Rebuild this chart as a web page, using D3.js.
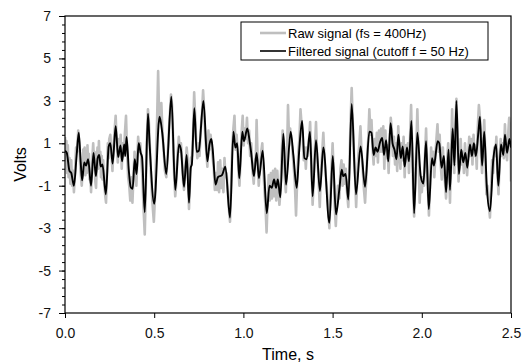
<!DOCTYPE html>
<html>
<head>
<meta charset="utf-8">
<script src="https://cdn.jsdelivr.net/npm/d3@7"></script>
<style>
  body { margin: 0; background: #fff; }
  svg { display: block; font-family: "Liberation Sans", Arial, sans-serif; }
</style>
</head>
<body>
<div id="chart"></div>
<script>
// tick values
var xTicks = [0, 0.5, 1.0, 1.5, 2.0, 2.5];
var yTicks = [-7, -5, -3, -1, 1, 3, 5, 7];
var legendLabels = ["Raw signal (fs = 400Hz)", "Filtered signal (cutoff f = 50 Hz)"];

// raw signal, [time s, volts]
var rawSignal = [
  [0.000,1.30],[0.004,0.20],[0.008,1.10],[0.012,-0.40],[0.016,0.90],[0.020,-0.60],[0.025,0.30],[0.030,-0.90],
  [0.035,0.20],[0.040,-1.00],[0.045,-0.30],[0.050,-1.30],[0.056,-0.40],[0.062,0.80],[0.068,0.60],[0.074,1.60],
  [0.078,1.20],[0.082,0.70],[0.086,-0.20],[0.090,-0.60],[0.094,-1.00],[0.098,-0.40],[0.102,0.70],[0.106,-0.30],
  [0.110,0.80],[0.114,-0.50],[0.118,0.60],[0.122,-0.40],[0.126,0.90],[0.130,-0.20],[0.134,0.50],[0.138,-0.70],
  [0.142,-0.30],[0.146,-1.30],[0.150,-0.40],[0.154,0.40],[0.158,1.00],[0.162,0.30],[0.166,0.60],[0.170,-0.80],
  [0.174,-1.10],[0.178,-0.10],[0.182,0.80],[0.186,-0.20],[0.190,1.10],[0.194,0.00],[0.198,0.60],[0.202,-0.60],
  [0.206,0.40],[0.210,-0.70],[0.214,0.20],[0.220,-0.90],[0.226,-1.50],[0.230,-1.80],[0.236,-0.20],[0.240,1.00],
  [0.244,0.30],[0.248,1.20],[0.254,1.40],[0.260,0.60],[0.266,-0.30],[0.272,0.80],[0.278,1.60],[0.284,2.30],
  [0.290,1.00],[0.296,0.10],[0.302,1.20],[0.306,0.40],[0.312,1.40],[0.318,-0.20],[0.324,1.00],[0.330,0.40],
  [0.336,1.50],[0.342,2.30],[0.348,0.60],[0.354,-0.60],[0.360,-1.00],[0.366,-1.70],[0.372,-0.60],[0.378,-1.80],
  [0.384,-0.50],[0.390,0.60],[0.394,-0.20],[0.400,-1.00],[0.406,0.40],[0.410,1.30],[0.416,0.60],[0.422,1.00],
  [0.428,0.20],[0.434,-0.60],[0.440,-2.00],[0.447,-3.30],[0.452,-1.50],[0.458,1.00],[0.465,2.60],[0.470,2.00],
  [0.476,0.80],[0.482,-0.50],[0.490,-1.80],[0.498,-2.70],[0.504,-1.60],[0.510,0.20],[0.516,2.00],[0.522,4.40],
  [0.527,2.50],[0.533,2.00],[0.540,2.90],[0.546,1.60],[0.552,0.80],[0.560,-0.30],[0.568,-0.60],[0.576,0.50],
  [0.584,1.80],[0.594,3.30],[0.600,2.80],[0.606,1.20],[0.612,-0.50],[0.618,-1.50],[0.624,-0.80],[0.630,0.40],
  [0.638,1.30],[0.644,0.60],[0.650,1.00],[0.656,0.20],[0.662,-0.80],[0.667,-1.20],[0.674,-0.30],[0.682,0.80],
  [0.688,0.20],[0.695,-2.10],[0.700,-1.00],[0.706,0.30],[0.712,0.40],[0.718,1.40],[0.724,3.40],[0.730,2.20],
  [0.736,0.90],[0.742,0.30],[0.748,1.00],[0.754,0.40],[0.760,1.50],[0.768,2.40],[0.774,3.50],[0.780,2.60],
  [0.786,1.40],[0.792,0.60],[0.798,-0.10],[0.804,1.60],[0.810,0.70],[0.816,1.40],[0.822,0.90],[0.828,0.30],
  [0.834,-0.20],[0.840,-1.20],[0.846,-0.40],[0.852,-1.20],[0.858,0.10],[0.864,-1.30],[0.870,0.20],[0.876,-1.10],
  [0.882,-0.20],[0.888,-1.30],[0.894,0.30],[0.900,-0.60],[0.906,-0.40],[0.912,-1.20],[0.918,-2.00],[0.925,-2.70],
  [0.932,-0.80],[0.938,0.90],[0.944,1.70],[0.950,2.30],[0.956,0.70],[0.962,1.40],[0.968,0.50],[0.974,-0.50],
  [0.978,-1.00],[0.984,0.30],[0.990,1.50],[0.996,2.30],[1.002,0.90],[1.008,1.70],[1.014,1.20],[1.020,2.20],
  [1.026,1.00],[1.032,1.60],[1.038,0.40],[1.044,1.00],[1.050,-0.20],[1.058,-0.90],[1.064,0.10],[1.070,0.40],
  [1.074,2.10],[1.080,0.20],[1.086,-1.00],[1.092,-0.30],[1.100,0.60],[1.106,1.00],[1.112,-0.20],[1.118,-1.20],
  [1.124,-2.00],[1.130,-3.20],[1.136,-1.60],[1.142,-0.50],[1.148,-1.70],[1.154,-0.40],[1.160,-1.60],[1.166,-0.30],
  [1.172,-1.50],[1.178,-0.20],[1.184,-1.70],[1.190,-0.30],[1.196,-1.20],[1.202,-1.90],[1.208,-1.20],[1.214,0.30],
  [1.220,1.60],[1.226,1.00],[1.232,-0.60],[1.238,-1.30],[1.244,0.20],[1.250,2.80],[1.256,1.20],[1.262,1.70],
  [1.268,1.00],[1.274,0.80],[1.280,0.10],[1.288,-0.80],[1.295,-2.40],[1.302,-0.60],[1.308,0.60],[1.314,1.20],
  [1.320,2.60],[1.326,1.90],[1.332,1.40],[1.338,0.20],[1.344,0.80],[1.350,-0.20],[1.356,0.80],[1.362,0.40],
  [1.368,1.20],[1.374,2.00],[1.380,0.40],[1.388,-1.90],[1.394,-0.70],[1.400,0.60],[1.407,2.00],[1.413,0.40],
  [1.420,-0.40],[1.428,-2.00],[1.434,-0.60],[1.440,0.30],[1.448,1.50],[1.454,0.40],[1.462,-0.60],[1.470,-1.40],
  [1.476,-2.20],[1.482,-3.00],[1.488,-1.40],[1.494,-0.20],[1.500,1.00],[1.506,-0.40],[1.512,-2.00],[1.518,-2.90],
  [1.524,-1.80],[1.530,-1.00],[1.538,-1.60],[1.544,-0.20],[1.550,0.20],[1.556,-1.00],[1.562,0.00],[1.568,-0.90],
  [1.574,-0.20],[1.580,-1.20],[1.588,-2.00],[1.594,-0.40],[1.600,1.90],[1.607,3.60],[1.613,2.00],[1.620,0.40],
  [1.626,-0.60],[1.632,-2.00],[1.638,-0.60],[1.644,0.40],[1.650,1.00],[1.656,1.80],[1.662,0.60],[1.670,-0.40],
  [1.676,-1.20],[1.682,-1.80],[1.688,-0.80],[1.694,0.40],[1.700,1.20],[1.706,2.60],[1.712,1.40],[1.718,2.10],
  [1.724,0.80],[1.730,0.00],[1.736,1.20],[1.742,0.40],[1.748,1.50],[1.754,0.10],[1.760,1.60],[1.766,0.60],
  [1.772,1.70],[1.778,0.60],[1.784,1.80],[1.790,-0.20],[1.796,1.60],[1.802,0.30],[1.808,0.90],[1.814,-0.40],
  [1.820,1.20],[1.826,2.20],[1.832,1.60],[1.838,0.40],[1.844,1.30],[1.850,0.00],[1.856,1.00],[1.862,-0.30],
  [1.868,1.80],[1.874,0.60],[1.880,-0.20],[1.886,1.00],[1.892,0.20],[1.898,1.30],[1.904,-0.60],[1.910,0.90],
  [1.916,0.20],[1.922,1.00],[1.928,-0.40],[1.934,1.20],[1.940,2.80],[1.946,0.60],[1.952,-1.20],[1.957,-2.45],
  [1.963,-0.80],[1.969,0.60],[1.975,2.60],[1.981,0.80],[1.988,-1.80],[1.994,-0.60],[2.000,-1.30],[2.006,-0.60],
  [2.012,-1.00],[2.018,0.40],[2.024,1.70],[2.030,0.00],[2.036,-1.50],[2.040,-2.40],[2.046,-1.00],[2.052,0.80],
  [2.058,0.00],[2.064,0.60],[2.070,-0.60],[2.076,0.40],[2.082,1.20],[2.088,1.90],[2.094,0.60],[2.100,1.40],
  [2.106,0.00],[2.112,-0.70],[2.118,0.80],[2.124,-0.20],[2.130,-0.80],[2.136,-1.60],[2.142,0.20],[2.148,1.00],
  [2.154,-0.40],[2.158,-1.80],[2.164,0.40],[2.170,2.60],[2.176,0.60],[2.182,-0.40],[2.188,1.60],[2.194,3.10],
  [2.200,1.20],[2.206,-0.80],[2.212,0.20],[2.218,1.20],[2.224,0.00],[2.230,0.60],[2.236,-0.40],[2.242,1.00],
  [2.248,0.20],[2.254,-0.50],[2.260,0.40],[2.266,1.30],[2.272,0.40],[2.278,1.20],[2.284,0.00],[2.290,1.40],
  [2.296,0.40],[2.302,0.90],[2.308,-0.20],[2.314,1.80],[2.320,2.80],[2.326,2.20],[2.332,0.40],[2.338,-0.40],
  [2.344,1.00],[2.350,2.10],[2.356,0.40],[2.362,-1.40],[2.368,-1.00],[2.374,-1.80],[2.382,-2.50],[2.388,-1.20],
  [2.394,0.20],[2.400,-0.40],[2.406,0.80],[2.412,0.40],[2.418,1.30],[2.424,-0.40],[2.430,-1.40],[2.436,0.20],
  [2.442,1.20],[2.448,0.40],[2.454,1.00],[2.460,0.30],[2.466,1.90],[2.472,0.60],[2.478,0.20],[2.484,1.40],
  [2.490,2.20],[2.496,1.60],[2.500,-0.80]
];

// filtered signal turning points, [time s, volts]
var filteredSignal = [
  [0.000,0.65],[0.010,0.55],[0.025,-0.30],[0.035,-0.40],[0.050,-1.00],[0.065,0.40],[0.077,1.50],[0.088,0.10],
  [0.096,-0.75],[0.108,0.10],[0.118,-0.05],[0.130,0.25],[0.146,-1.00],[0.160,0.55],[0.173,-0.55],[0.183,0.30],
  [0.192,0.45],[0.200,-0.10],[0.210,0.00],[0.229,-1.40],[0.245,0.85],[0.254,1.00],[0.267,0.05],[0.284,1.80],
  [0.298,0.35],[0.311,0.90],[0.320,0.15],[0.332,0.95],[0.338,0.40],[0.345,1.30],[0.358,-0.30],[0.368,-1.05],
  [0.379,-1.15],[0.391,0.25],[0.401,-0.45],[0.413,1.00],[0.424,0.55],[0.432,0.35],[0.447,-2.25],[0.465,2.40],
  [0.474,1.00],[0.500,-1.85],[0.530,2.25],[0.545,1.50],[0.568,-0.45],[0.596,3.20],[0.618,-1.20],[0.639,0.95],
  [0.650,0.70],[0.667,-1.05],[0.682,0.45],[0.695,-1.80],[0.705,-0.15],[0.711,0.00],[0.725,2.65],[0.738,0.60],
  [0.750,0.65],[0.776,3.00],[0.798,0.15],[0.810,0.95],[0.820,1.20],[0.827,0.80],[0.844,-0.95],[0.857,-0.60],
  [0.880,-0.50],[0.899,-0.10],[0.925,-2.50],[0.944,1.55],[0.955,0.80],[0.965,1.00],[0.977,-0.65],[0.994,1.55],
  [1.003,1.10],[1.022,1.70],[1.034,1.15],[1.043,0.60],[1.059,-0.55],[1.074,0.55],[1.087,-0.65],[1.108,0.65],
  [1.131,-2.30],[1.146,-1.00],[1.159,-1.10],[1.172,-0.70],[1.183,-1.10],[1.193,-0.70],[1.207,-1.55],[1.224,1.45],
  [1.239,-0.95],[1.265,1.55],[1.280,0.45],[1.299,-1.10],[1.312,0.55],[1.329,2.05],[1.342,0.30],[1.355,0.25],
  [1.373,1.55],[1.388,-1.50],[1.407,1.15],[1.429,-1.25],[1.448,0.80],[1.482,-2.75],[1.501,0.40],[1.519,-2.35],
  [1.538,-1.15],[1.551,-0.25],[1.560,-0.55],[1.573,-0.45],[1.588,-1.65],[1.607,2.85],[1.631,-1.40],[1.657,0.85],
  [1.682,-1.05],[1.706,1.55],[1.718,1.50],[1.730,0.45],[1.741,0.80],[1.752,0.60],[1.766,1.05],[1.778,1.25],
  [1.788,0.45],[1.800,1.15],[1.812,0.15],[1.825,1.95],[1.836,1.00],[1.847,0.70],[1.858,0.25],[1.869,1.40],
  [1.882,0.30],[1.893,0.85],[1.904,-0.10],[1.917,0.80],[1.928,0.15],[1.942,2.05],[1.957,-2.30],[1.975,1.50],
  [1.994,-0.55],[2.009,-0.90],[2.024,1.10],[2.039,-2.10],[2.057,0.30],[2.068,-0.05],[2.089,1.10],[2.098,1.00],
  [2.111,-0.15],[2.124,0.40],[2.136,-1.30],[2.150,0.70],[2.158,-1.20],[2.173,1.70],[2.183,-0.05],[2.194,3.00],
  [2.208,-0.45],[2.221,0.70],[2.232,0.10],[2.244,0.55],[2.255,-0.15],[2.270,0.95],[2.281,0.40],[2.292,1.00],
  [2.303,0.40],[2.317,1.50],[2.326,2.25],[2.338,-0.05],[2.350,1.55],[2.364,-1.00],[2.382,-2.20],[2.401,0.25],
  [2.416,0.95],[2.429,-1.00],[2.444,0.95],[2.457,0.45],[2.466,1.40],[2.478,0.55],[2.491,1.20],[2.500,0.80]
];

var width = 523,
  height = 362;
var margin = { left: 65, right: 12, top: 16, bottom: 49 };

var svg = d3
  .select("#chart")
  .append("svg")
  .attr("width", width)
  .attr("height", height);

var x = d3
  .scaleLinear()
  .domain([0, 2.5])
  .range([margin.left, width - margin.right]);
var y = d3
  .scaleLinear()
  .domain([-7, 7])
  .range([height - margin.bottom, margin.top]);

svg
  .append("clipPath")
  .attr("id", "plot-clip")
  .append("rect")
  .attr("x", x(0))
  .attr("y", y(7))
  .attr("width", x(2.5) - x(0))
  .attr("height", y(-7) - y(7));

var line = d3
  .line()
  .x(function(d) {
    return x(d[0]);
  })
  .y(function(d) {
    return y(d[1]);
  });

var plot = svg.append("g").attr("clip-path", "url(#plot-clip)");

plot
  .append("path")
  .datum(rawSignal)
  .attr("fill", "none")
  .attr("stroke", "#bfbfbf")
  .attr("stroke-width", 2.6)
  .attr("stroke-linejoin", "round")
  .attr("d", line);

plot
  .append("path")
  .datum(filteredSignal)
  .attr("fill", "none")
  .attr("stroke", "#000")
  .attr("stroke-width", 1.9)
  .attr("stroke-linejoin", "round")
  .attr("d", line.curve(d3.curveMonotoneX));

// minor y ticks every 0.4
var minorY = d3.range(0, 36).map(function(i) {
  return -7 + i * 0.4;
});

svg
  .append("g")
  .attr("class", "y-minor")
  .attr("transform", "translate(" + x(0) + ",0)")
  .call(d3.axisLeft(y).tickValues(minorY).tickSize(3).tickFormat(""))
  .call(function(g) {
    g.select(".domain").remove();
  });

var yAxis = svg
  .append("g")
  .attr("class", "y-axis")
  .attr("transform", "translate(" + x(0) + ",0)")
  .call(
    d3
      .axisLeft(y)
      .tickValues(yTicks)
      .tickSize(6)
      .tickPadding(8)
      .tickFormat(function(d) {
        return String(d);
      })
  );

var xAxis = svg
  .append("g")
  .attr("class", "x-axis")
  .attr("transform", "translate(0," + y(-7) + ")")
  .call(
    d3
      .axisBottom(x)
      .tickValues(xTicks)
      .tickSize(5)
      .tickPadding(10)
      .tickFormat(d3.format(".1f"))
  );

svg
  .selectAll(".x-axis text, .y-axis text")
  .attr("font-size", "14px")
  .attr("font-family", "Liberation Sans, Arial, sans-serif")
  .attr("fill", "#111");
svg.selectAll(".domain").remove();

// frame round the plot
svg
  .append("rect")
  .attr("x", x(0))
  .attr("y", y(7))
  .attr("width", x(2.5) - x(0))
  .attr("height", y(-7) - y(7))
  .attr("fill", "none")
  .attr("stroke", "#000")
  .attr("stroke-width", 1.2);

svg
  .append("text")
  .attr("transform", "translate(20," + (y(0)) + ") rotate(-90)")
  .attr("text-anchor", "middle")
  .attr("dominant-baseline", "central")
  .attr("font-size", "16px")
  .text("Volts");

svg
  .append("text")
  .attr("x", (x(0) + x(2.5)) / 2)
  .attr("y", 354)
  .attr("text-anchor", "middle")
  .attr("dominant-baseline", "central")
  .attr("font-size", "16px")
  .text("Time, s");

// legend
var legend = svg.append("g").attr("class", "legend");
legend
  .append("rect")
  .attr("x", 241)
  .attr("y", 22)
  .attr("width", 247)
  .attr("height", 38)
  .attr("fill", "#fff")
  .attr("stroke", "#000")
  .attr("stroke-width", 1);

var legendRows = legend
  .selectAll("g.legend-row")
  .data(legendLabels)
  .enter()
  .append("g")
  .attr("class", "legend-row")
  .attr("transform", function(d, i) {
    return "translate(0," + (33 + i * 18) + ")";
  });

legendRows
  .append("line")
  .attr("x1", 260)
  .attr("x2", 286)
  .attr("stroke", function(d, i) {
    return i === 0 ? "#bfbfbf" : "#000";
  })
  .attr("stroke-width", function(d, i) {
    return i === 0 ? 2.6 : 1.6;
  });

legendRows
  .append("text")
  .attr("x", 288)
  .attr("dominant-baseline", "central")
  .attr("font-size", "13px")
  .text(function(d) {
    return d;
  });
</script>
</body>
</html>
